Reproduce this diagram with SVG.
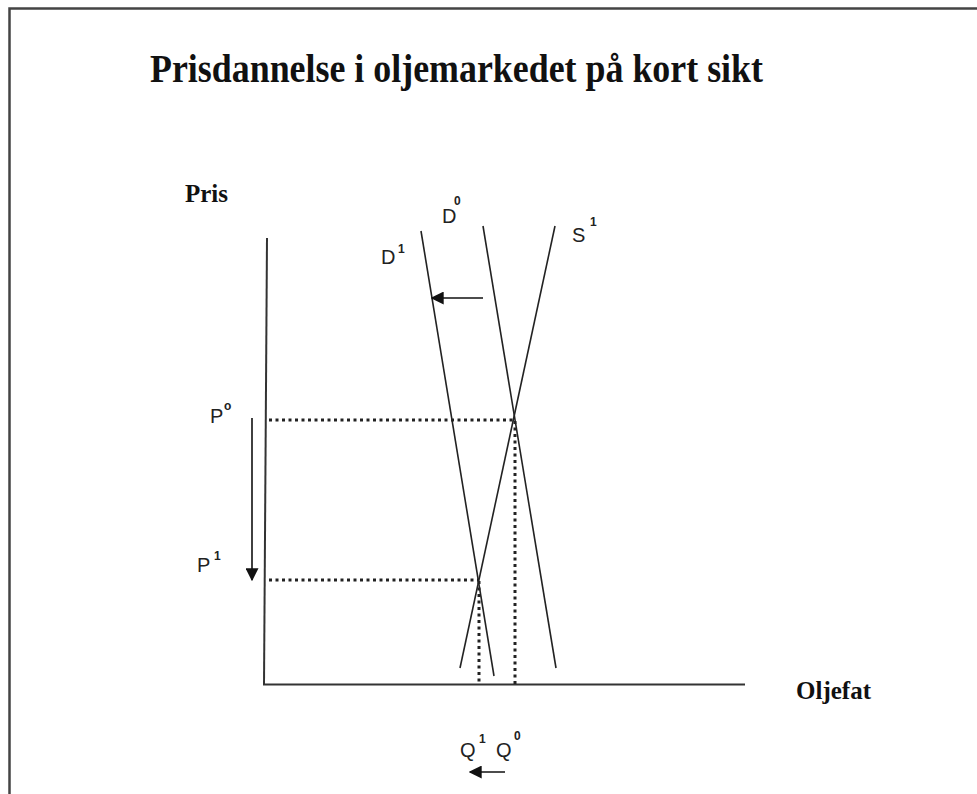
<svg xmlns="http://www.w3.org/2000/svg" width="977" height="794" viewBox="0 0 977 794">
<defs>
<style>
.title{font-family:"Liberation Serif","Times New Roman",serif;font-weight:bold;fill:#111}
.ax{font-family:"Liberation Serif","Times New Roman",serif;font-weight:bold;font-size:25px;fill:#111}
.lb{font-family:"Liberation Sans",Arial,sans-serif;font-size:20px;fill:#222}
.sp{font-family:"Liberation Sans",Arial,sans-serif;font-size:12px;fill:#222;font-weight:bold}
.axis{stroke:#333;stroke-width:2;fill:none}
.curve{stroke:#222;stroke-width:1.6;fill:none}
.dot{stroke:#222;stroke-width:3;stroke-dasharray:3 3.5;fill:none}
.arr{stroke:#111;stroke-width:1.6;fill:none;marker-end:url(#ah2)}
</style>
<marker id="ah2" viewBox="0 0 10 10" refX="9" refY="5" markerWidth="13" markerHeight="13" markerUnits="userSpaceOnUse" orient="auto">
<path d="M0,0 L10,5 L0,10 Z" fill="#111"/>
</marker>
</defs>
<rect x="0" y="0" width="977" height="794" fill="#fff"/>
<rect x="9.5" y="8.5" width="990" height="800" fill="none" stroke="#444" stroke-width="2.5"/>
<text class="title" x="150" y="82" font-size="39" textLength="613" lengthAdjust="spacingAndGlyphs">Prisdannelse i oljemarkedet på kort sikt</text>
<g id="axes">
<line class="axis" x1="267" y1="238" x2="264" y2="685"/>
<line class="axis" x1="263" y1="684.5" x2="745" y2="684.5"/>
<text class="ax" x="185" y="202">Pris</text>
<text class="ax" x="796" y="699" font-size="26">Oljefat</text>
</g>
<g id="D1">
<line class="curve" x1="421" y1="231" x2="494" y2="676"/>
<text class="lb" x="381" y="264">D</text><text class="sp" x="398" y="253">1</text>
</g>
<g id="D0">
<line class="curve" x1="483" y1="226" x2="556" y2="668"/>
<text class="lb" x="442" y="223">D</text><text class="sp" x="454" y="205">0</text>
</g>
<g id="S1">
<line class="curve" x1="555" y1="226" x2="460" y2="668"/>
<text class="lb" x="572" y="242">S</text><text class="sp" x="590" y="226">1</text>
</g>
<g id="P0"><text class="lb" x="210" y="423">P</text><text class="sp" x="224" y="410">o</text></g>
<g id="P1"><text class="lb" x="197" y="572">P</text><text class="sp" x="214" y="560">1</text></g>
<g id="Q1"><text class="lb" x="460" y="757">Q</text><text class="sp" x="479" y="743">1</text></g>
<g id="Q0"><text class="lb" x="496" y="757">Q</text><text class="sp" x="514" y="740">0</text></g>
<g id="connectors">
<line class="dot" x1="269" y1="420" x2="515" y2="420"/>
<line class="dot" x1="269" y1="580" x2="479" y2="580"/>
<line class="dot" x1="515" y1="421" x2="515" y2="684"/>
<line class="dot" x1="479" y1="581" x2="479" y2="684"/>
<line class="arr" x1="483" y1="298" x2="432" y2="298"/>
<line class="arr" x1="252" y1="418" x2="252" y2="580"/>
<line class="arr" x1="505" y1="772" x2="470" y2="772"/>
</g>
</svg>
